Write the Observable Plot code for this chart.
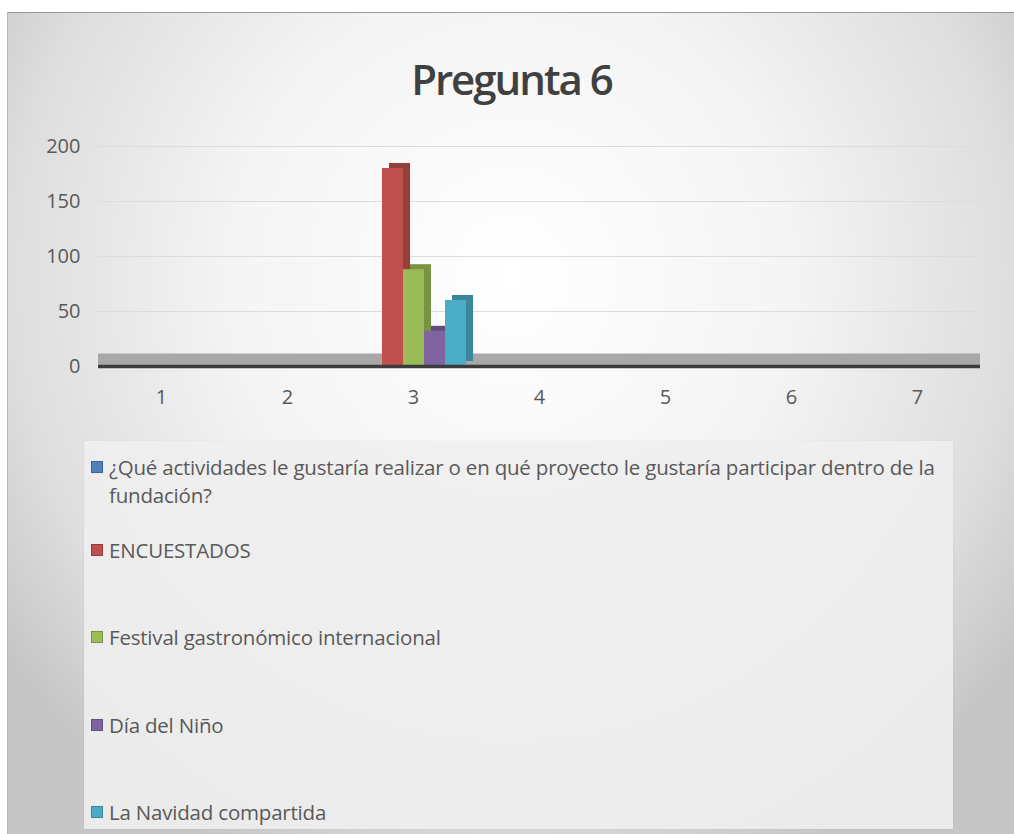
<!DOCTYPE html>
<html>
<head>
<meta charset="utf-8">
<script src="https://cdn.jsdelivr.net/npm/d3@7"></script>
<script src="https://cdn.jsdelivr.net/npm/@observablehq/plot@0.6"></script>
<style>
  html, body { margin: 0; padding: 0; background: #ffffff; }
  #chart {
    position: absolute; left: 7px; top: 12px; width: 1007px; height: 822px;
    background: radial-gradient(ellipse 62% 78% at 50% 32%, #ffffff 0%, #f4f4f4 45%, #dedede 80%, #c6c6c6 100%);
    border-top: 1px solid #9a9a9a; border-left: 1px solid #b4b4b4;
    font-family: "Open Sans", sans-serif; overflow: hidden;
  }
  #title {
    position: absolute; left: 0; width: 100%; top: 37px; text-align: center;
    font-size: 42px; font-weight: 600; color: #404040; letter-spacing: -2px;
  }
  #plot { position: absolute; left: 3px; top: 113px; }
  #legend {
    position: absolute; left: 76px; top: 428px; width: 869px; height: 388px;
    background: rgba(238,238,238,0.9);
    box-shadow: 0 0 2px rgba(0,0,0,0.06);
  }
  .item { position: absolute; left: 7px; font-size: 20.5px; color: #595959; line-height: 28px; padding-left: 18px; width: 842px; letter-spacing: -0.2px; }
  .sw { position: absolute; left: 0; top: 8px; width: 12px; height: 12px; box-sizing: border-box; }
</style>
</head>
<body>
<div id="chart">
  <div id="title">Pregunta 6</div>
  <div id="plot"></div>
  <div id="legend"></div>
</div>
<script>
const categories = ["1", "2", "3", "4", "5", "6", "7"];
const seriesNames = [
  "¿Qué actividades le gustaría realizar o en qué proyecto le gustaría participar dentro de la fundación?",
  "ENCUESTADOS",
  "Festival gastronómico internacional",
  "Día del Niño",
  "La Navidad compartida"
];
const seriesColors = ["#4f81bd", "#c0504d", "#9bbb59", "#8064a2", "#4bacc6"];
const category3Values = [0, 180, 88, 32, 60];
const yTicks = [0, 50, 100, 150, 200];
const legendTops = [12, 95, 182, 270, 357];

const data = seriesNames.map((s, i) => ({cat: "3", series: s, value: category3Values[i]}));
const darkColors = seriesColors.map(c => d3.color(c).darker(0.7).formatHex());
const gridData = categories.flatMap(c => yTicks.slice(1).map(t => ({cat: c, tick: t})));
const floorData = categories.map(c => ({cat: c, tick: 0}));

const shadowMarks = seriesNames.map((s, i) =>
  Plot.barY(data.filter(d => d.series === s && d.value > 0), {
    fx: "cat", x: "series", y: "value", fill: darkColors[i], dx: 7, dy: -5
  })
);

const chart = Plot.plot({
  width: 1004, height: 300,
  marginTop: 20, marginBottom: 60, marginLeft: 84, marginRight: 33,
  style: {background: "transparent", fontFamily: "Open Sans, sans-serif", fontSize: "20px", color: "#595959"},
  fx: {domain: categories, padding: 0, label: null, axis: "bottom", tickSize: 0, tickPadding: 23},
  x: {domain: seriesNames, paddingInner: 0, paddingOuter: 0.45, axis: null},
  y: {domain: [0, 200], ticks: yTicks, label: null, tickSize: 0, tickPadding: 18},
  color: {domain: seriesNames, range: seriesColors},
  marks: [
    Plot.ruleY(gridData, {fx: "cat", y: "tick", stroke: "#dcdcdc", strokeWidth: 1.2}),
    Plot.ruleY(floorData, {fx: "cat", y: "tick", stroke: "#a8a8a8", strokeWidth: 12, dy: -7}),
    ...shadowMarks,
    Plot.barY(data.filter(d => d.value > 0), {fx: "cat", x: "series", y: "value", fill: "series"}),
    Plot.ruleY(floorData, {fx: "cat", y: "tick", stroke: "#3c3c3c", strokeWidth: 3.5})
  ]
});
document.getElementById("plot").appendChild(chart);

const legend = document.getElementById("legend");
seriesNames.forEach((s, i) => {
  const it = document.createElement("div");
  it.className = "item";
  it.style.top = legendTops[i] + "px";
  const sw = document.createElement("span");
  sw.className = "sw";
  sw.style.background = seriesColors[i];
  sw.style.border = "1px solid " + darkColors[i];
  it.appendChild(sw);
  it.appendChild(document.createTextNode(s));
  legend.appendChild(it);
});
</script>
</body>
</html>
